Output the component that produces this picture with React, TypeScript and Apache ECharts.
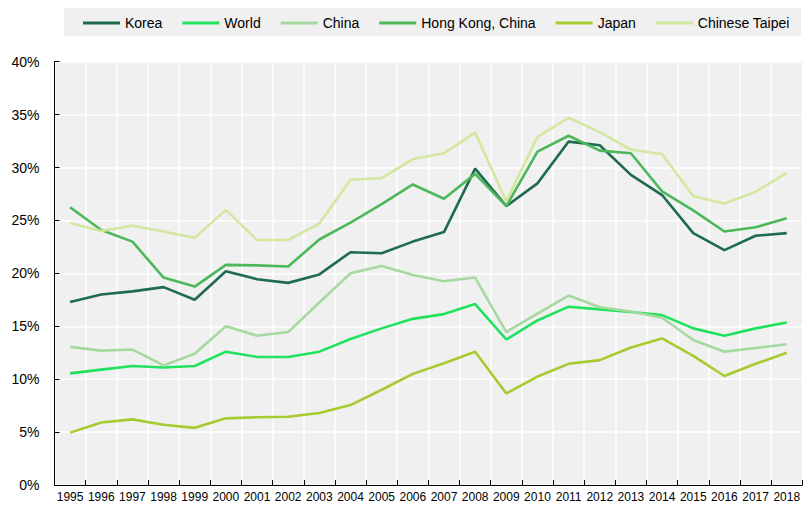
import React, { useEffect, useRef } from "react";
import * as echarts from "echarts";

const years = ["1995","1996","1997","1998","1999","2000","2001","2002","2003","2004","2005","2006","2007","2008","2009","2010","2011","2012","2013","2014","2015","2016","2017","2018"];

const korea = [17.3,18.0,18.3,18.7,17.5,20.2,19.45,19.1,19.9,22.0,21.9,23.0,23.9,29.9,26.35,28.5,32.45,32.1,29.3,27.4,23.8,22.2,23.55,23.8];
const world = [10.55,10.9,11.25,11.1,11.25,12.6,12.1,12.1,12.6,13.8,14.8,15.7,16.15,17.1,13.75,15.55,16.85,16.6,16.35,16.05,14.8,14.1,14.8,15.35];
const china = [13.05,12.7,12.8,11.3,12.4,15.0,14.1,14.45,17.25,20.0,20.7,19.85,19.25,19.6,14.45,16.2,17.9,16.8,16.4,15.8,13.7,12.6,12.95,13.3];
const hongKong = [26.25,24.1,23.0,19.6,18.75,20.8,20.75,20.65,23.2,24.8,26.55,28.4,27.05,29.4,26.35,31.5,33.0,31.6,31.35,27.75,25.95,23.95,24.35,25.2];
const japan = [4.95,5.9,6.2,5.7,5.4,6.3,6.4,6.45,6.8,7.55,9.0,10.5,11.5,12.6,8.65,10.25,11.45,11.8,13.0,13.85,12.2,10.3,11.45,12.5];
const chineseTaipei = [24.75,24.0,24.5,23.95,23.35,26.0,23.15,23.15,24.7,28.85,29.0,30.8,31.35,33.3,26.8,32.9,34.7,33.35,31.7,31.25,27.3,26.6,27.7,29.5];

const seriesNames = ["Korea", "World", "China", "Hong Kong, China", "Japan", "Chinese Taipei"];
const seriesData = [korea, world, china, hongKong, japan, chineseTaipei];
const seriesColors = ["#1f6b50", "#1fe35d", "#a6d9a0", "#4cb85a", "#a7cb2e", "#d3e7a0"];

const FONT = "'Liberation Sans', Arial, sans-serif";

export default function App() {
  const ref = useRef<HTMLDivElement>(null);
  useEffect(() => {
    if (!ref.current) return;
    const chart = echarts.init(ref.current, undefined, { renderer: "svg" });
    chart.setOption({
      animation: false,
      backgroundColor: "#ffffff",
      graphic: [
        {
          type: "rect",
          shape: { x: 64, y: 8, width: 737, height: 28 },
          style: { fill: "#f0f0f0" },
          z: -1,
        },
      ],
      legend: {
        left: 83,
        top: 16,
        width: 720,
        icon: "rect",
        itemWidth: 37,
        itemHeight: 3,
        itemGap: 20,
        padding: 0,
        textStyle: { fontFamily: FONT, fontSize: 14, color: "#000" },
        data: seriesNames,
      },
      grid: {
        left: 54.5,
        top: 61.7,
        width: 751,
        height: 423.3,
        show: true,
        backgroundColor: "#f0f0f0",
        borderWidth: 0,
      },
      xAxis: {
        type: "category",
        data: years,
        boundaryGap: true,
        axisLine: { show: true, lineStyle: { color: "#000", width: 1 } },
        axisTick: { show: true, inside: true, length: 5, alignWithLabel: false, lineStyle: { color: "#000" } },
        axisLabel: { fontFamily: FONT, fontSize: 12, color: "#000", margin: 6, interval: 0 },
        splitLine: { show: true, lineStyle: { color: "#ffffff", width: 1.5 } },
      },
      yAxis: {
        type: "value",
        min: 0,
        max: 40,
        interval: 5,
        axisLine: { show: true, lineStyle: { color: "#000", width: 1 } },
        axisTick: { show: true, inside: true, length: 5, lineStyle: { color: "#000" } },
        axisLabel: { fontFamily: FONT, fontSize: 14, color: "#000", margin: 15, formatter: "{value}%" },
        splitLine: { show: true, lineStyle: { color: "#ffffff", width: 1.5 } },
      },
      series: seriesNames.map((name, i) => ({
        name,
        type: "line",
        data: seriesData[i],
        symbol: "none",
        showSymbol: false,
        color: seriesColors[i],
        lineStyle: { color: seriesColors[i], width: 2.6 },
        z: 2,
      })),
    });
    return () => chart.dispose();
  }, []);
  return (
    <div
      ref={ref}
      style={{ position: "absolute", left: 0, top: 0, width: 803, height: 506 }}
    />
  );
}
